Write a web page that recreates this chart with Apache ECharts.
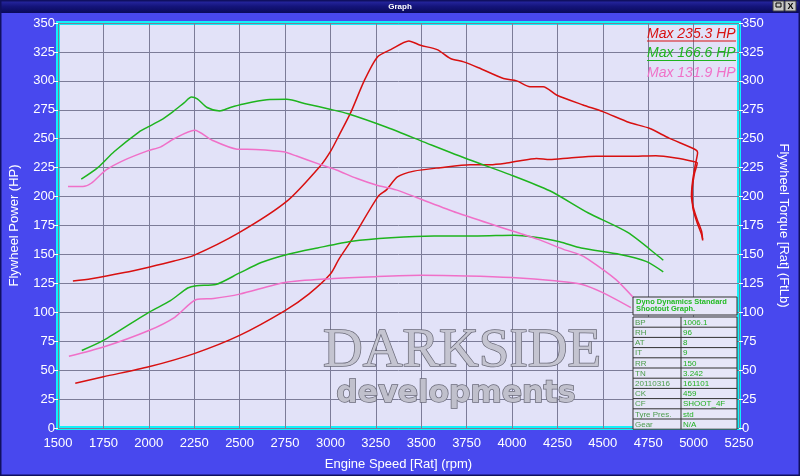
<!DOCTYPE html>
<html><head><meta charset="utf-8">
<script src="https://cdn.jsdelivr.net/npm/echarts@6/dist/echarts.min.js"></script>
<style>html,body{margin:0;padding:0;background:#4848ee;}#c{width:800px;height:476px;}</style>
</head><body><div id="c"></div>
<script>
// ---- data (rpm, value) ----
const redTorque = [[1582,127],[1683,129],[1865,134.3],[2000,139],[2139,144.3],[2248,149.2],[2495,168.6],[2759,195.8],[2942,226],[3004,240],[3051,254],[3113,273],[3186,300],[3259,320.7],[3332,327],[3432,334.5],[3496,330.7],[3588,327],[3661,319.3],[3734,316.4],[3816,311.3],[3953,302],[4026,300],[4099,295],[4172,295],[4245,287.8],[4391,279.2],[4500,273.4],[4646,264],[4756,259],[4865,250.5],[5011,240.5],[5022,238],[5010,228],[4995,214],[4988,200],[5000,190],[5020,180],[5044,170],[5050,162]];
const redPower = [[1595,38.6],[1750,44.3],[2000,52.9],[2250,64.3],[2500,80],[2750,101.4],[2881,115.7],[3000,133],[3047,146],[3119,163],[3262,200],[3310,206],[3369,217],[3460,222],[3606,225],[3770,227.6],[3880,227.6],[3971,229],[4026,230.5],[4135,233],[4208,232],[4318,233.4],[4464,234.8],[4646,234.8],[4792,235.3],[4902,233.4],[4993,230.5],[5020,229],[5005,220],[4992,205],[4996,190],[5018,178],[5042,168],[5050,163]];
const greenTorque = [[1628,215],[1719,225],[1810,239],[1947,256],[1993,260],[2066,266],[2130,273],[2194,281],[2235,286],[2267,284.4],[2321,277],[2391,274],[2449,277],[2522,280],[2650,283.6],[2759,284],[2869,280],[2997,275.5],[3097,271.6],[3314,259.7],[3533,246],[3761,232],[3989,219],[4208,205],[4418,186],[4637,169],[4810,148],[4833,145]];
const greenPower = [[1631,67],[1750,75.7],[2000,100],[2119,110],[2214,121],[2262,123],[2369,124],[2500,134],[2619,143],[2762,150],[2929,155.6],[3119,161.4],[3333,164.5],[3571,166],[3810,166],[4012,166.6],[4119,165],[4262,161],[4381,155.6],[4595,150],[4738,144],[4833,135]];
const pinkTorque = [[1555,208.6],[1637,208.6],[1683,211.5],[1765,223],[1865,231.5],[1993,239.5],[2066,243],[2139,250],[2252,257.3],[2349,248.7],[2486,241],[2586,240.7],[2741,238.7],[2814,235],[2942,227.8],[3033,223],[3143,215.8],[3252,210],[3362,205.8],[3478,199],[3697,186],[3916,174.6],[4144,163],[4281,154.6],[4369,150],[4418,146],[4571,128.5],[4667,113]];
const pinkPower = [[1560,62],[1750,70],[2000,84.3],[2143,95.7],[2262,111],[2357,112],[2500,115.7],[2750,125.7],[3000,129],[3250,130.8],[3500,131.9],[3750,131.4],[4000,130],[4250,127],[4381,124.3],[4500,117],[4655,104]];

const legendTexts = ['Max 235.3 HP','Max 166.6 HP','Max 131.9 HP'];
const infoHeader = ['Dyno Dynamics Standard','Shootout Graph.'];
const infoLabels = ['BP','RH','AT','IT','RR','TN','20110316','CK','CF','Tyre Pres.','Gear'];
const infoValues = ['1006.1','96','8','9','150','3.242','161101','459','SHOOT_4F','std','N/A'];

const RED='#d81010', GREEN='#1eb41e', PINK='#f070c8';
const FONT='Liberation Sans, Arial, sans-serif';

const chart = echarts.init(document.getElementById('c'));

function line(name, data, color, yIdx){
  return {name, type:'line', data, yAxisIndex:yIdx, showSymbol:false, smooth:0.25,
    lineStyle:{color, width:1.5}, itemStyle:{color}, z:3, animation:false};
}

const g = [];
// window frame
g.push({type:'rect', shape:{x:0,y:0,width:800,height:476}, style:{fill:'none', stroke:'#101060', lineWidth:3}, z:20, silent:true});
g.push({type:'rect', shape:{x:0,y:0,width:800,height:13}, style:{fill:new echarts.graphic.LinearGradient(0,0,0,1,[{offset:0,color:'#2a2aa8'},{offset:0.5,color:'#14147a'},{offset:1,color:'#0a0a5a'}])}, z:19});
g.push({type:'text', x:400, y:7, style:{text:'Graph', fill:'#ffffff', font:'bold 8px '+FONT, align:'center', verticalAlign:'middle'}, z:21});
g.push({type:'rect', shape:{x:773,y:1,width:11,height:10}, style:{fill:'#c8c8c8', stroke:'#404040', lineWidth:1}, z:21});
g.push({type:'rect', shape:{x:785,y:1,width:11,height:10}, style:{fill:'#c8c8c8', stroke:'#404040', lineWidth:1}, z:21});
g.push({type:'text', x:790.5, y:6.5, style:{text:'X', fill:'#000', font:'bold 9px '+FONT, align:'center', verticalAlign:'middle'}, z:22});
g.push({type:'rect', shape:{x:776,y:3,width:5,height:4}, style:{fill:'none', stroke:'#000', lineWidth:1}, z:22});
// watermark
g.push({type:'text', x:462, y:352, style:{text:'DARKSIDE', fill:'#c4c4d0', stroke:'#6a6a78', lineWidth:1.5, font:'55px Liberation Serif, serif', align:'center', verticalAlign:'middle'}, z:1});
g.push({type:'text', x:456, y:394, style:{text:'developments', fill:'#c0c0cc', stroke:'#6a6a78', lineWidth:1.5, font:'bold 30px DejaVu Sans, sans-serif', align:'center', verticalAlign:'middle'}, z:1});
// legend texts
const legCols=[RED,GREEN,PINK];
legendTexts.forEach((t,i)=>{
  g.push({type:'text', x:647, y:34+i*19.5, style:{text:t, fill:legCols[i], font:'italic 14px '+FONT, align:'left', verticalAlign:'middle'}, z:10});
  if(i<2) g.push({type:'line', shape:{x1:647,y1:41+i*19.5,x2:736,y2:41+i*19.5}, style:{stroke:legCols[i], lineWidth:1}, z:10});
});
// info table
const tx=633, ty=297, tw=104;
g.push({type:'rect', shape:{x:tx,y:ty,width:tw,height:18}, style:{fill:'#e6e6f8', stroke:'#303030', lineWidth:1}, z:10});
g.push({type:'text', x:tx+3, y:ty+5, style:{text:infoHeader[0], fill:'#22bb22', font:'bold 7.5px '+FONT, verticalAlign:'middle'}, z:11});
g.push({type:'text', x:tx+3, y:ty+12, style:{text:infoHeader[1], fill:'#22bb22', font:'bold 7.5px '+FONT, verticalAlign:'middle'}, z:11});
const rh=10.2, ry=ty+20;
g.push({type:'rect', shape:{x:tx,y:ry,width:tw,height:rh*infoLabels.length}, style:{fill:'#e6e6f8', stroke:'#303030', lineWidth:1}, z:10});
g.push({type:'line', shape:{x1:681,y1:ry,x2:681,y2:ry+rh*infoLabels.length}, style:{stroke:'#303030', lineWidth:1}, z:11});
infoLabels.forEach((t,i)=>{
  if(i>0) g.push({type:'line', shape:{x1:tx,y1:ry+i*rh,x2:tx+tw,y2:ry+i*rh}, style:{stroke:'#303030', lineWidth:1}, z:11});
  g.push({type:'text', x:tx+2, y:ry+i*rh+rh/2+0.5, style:{text:t, fill:'#4c9c4c', font:'8px '+FONT, verticalAlign:'middle'}, z:12});
  g.push({type:'text', x:683, y:ry+i*rh+rh/2+0.5, style:{text:infoValues[i], fill:'#22b022', font:'8px '+FONT, verticalAlign:'middle'}, z:12});
});

const plain = v => String(v);
const axLabel = {color:'#ffffff', fontSize:13, fontFamily:FONT, formatter:plain};
const option = {
  backgroundColor:'#4848ee',
  animation:false,
  grid:{left:55, right:61, top:23, bottom:46, show:true, backgroundColor:'#e2e2f8', borderColor:'#12f0f8', borderWidth:4, containLabel:false},
  xAxis:{type:'value', min:1500, max:5250, interval:250,
    name:'Engine Speed [Rat] (rpm)', nameLocation:'middle', nameGap:30,
    nameTextStyle:{color:'#ffffff', fontSize:13, fontFamily:FONT},
    axisLine:{show:false}, axisTick:{show:false},
    axisLabel:Object.assign({margin:9}, axLabel),
    splitLine:{show:true, lineStyle:{color:'#7c7c98', width:1}}},
  yAxis:[
    {type:'value', min:0, max:350, interval:25, position:'left',
     name:'Flywheel Power (HP)', nameLocation:'middle', nameGap:37, nameRotate:90,
     nameTextStyle:{color:'#ffffff', fontSize:13, fontFamily:FONT},
     axisLine:{show:false}, axisTick:{show:true, length:4, lineStyle:{color:'#ffffff'}},
     axisLabel:Object.assign({margin:3}, axLabel),
     splitLine:{show:true, lineStyle:{color:'#7c7c98', width:1}}},
    {type:'value', min:0, max:350, interval:25, position:'right',
     name:'Flywheel Torque [Rat] (FtLb)', nameLocation:'middle', nameGap:38, nameRotate:-90,
     nameTextStyle:{color:'#ffffff', fontSize:13, fontFamily:FONT},
     axisLine:{show:false}, axisTick:{show:true, length:4, lineStyle:{color:'#ffffff'}},
     axisLabel:Object.assign({margin:3}, axLabel),
     splitLine:{show:false}}
  ],
  series:[
    line('Red Power', redPower, RED, 0),
    line('Red Torque', redTorque, RED, 1),
    line('Green Power', greenPower, GREEN, 0),
    line('Green Torque', greenTorque, GREEN, 1),
    line('Pink Power', pinkPower, PINK, 0),
    line('Pink Torque', pinkTorque, PINK, 1)
  ],
  graphic:g
};
chart.setOption(option);
</script></body></html>
